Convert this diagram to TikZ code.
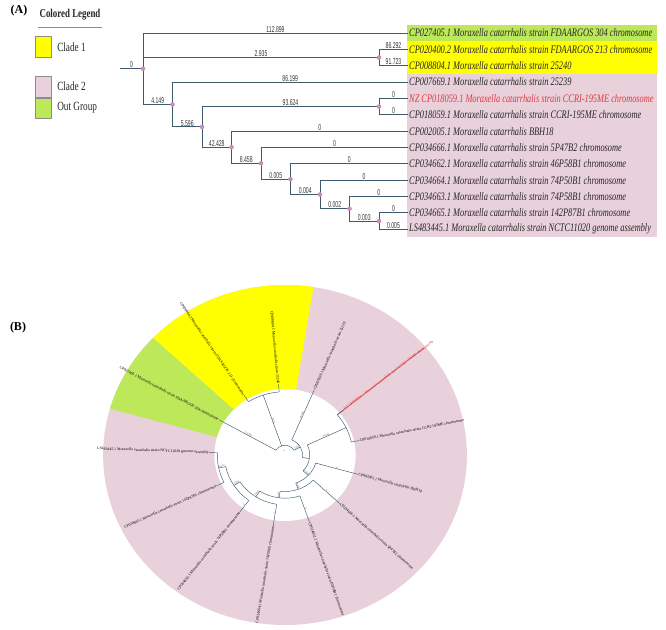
\documentclass[tikz,border=0pt]{standalone}
\usepackage{fontspec}
\usepackage{graphicx}
\setmainfont{Liberation Serif}
\newfontfamily\legfont[FakeStretch=0.74]{Liberation Serif}
\newfontfamily\numfont[FakeStretch=0.6]{Liberation Sans}
\definecolor{cladeY}{HTML}{FFFF00}
\definecolor{cladeP}{HTML}{E8D1DB}
\definecolor{cladeG}{HTML}{BDE85A}
\definecolor{branchc}{HTML}{3E5B6E}
\definecolor{dotc}{HTML}{C98FB5}
\definecolor{redlab}{HTML}{E0393E}
\newsavebox\measbox
\newdimen\measw
\AtBeginDocument{%
  \sbox\measbox{\fontsize{11.5}{12}\selectfont\itshape CP027405.1 Moraxella catarrhalis strain FDAARGOS 304 chromosome}%
  \measw=\wd\measbox
  \pgfmathparse{243/\measw}\xdef\labsx{\pgfmathresult}}
\newcommand{\lab}[1]{\scalebox{\labsx}[1]{#1}}
\tikzset{
  branch/.style={draw=branchc, line width=0.8pt},
  ndot/.style={circle, fill=dotc, inner sep=0pt, minimum size=4.6pt},
  blen/.style={font=\numfont\fontsize{8.5}{9}\selectfont, inner sep=0.6pt, anchor=south, text=black!80},
  leaf/.style={font=\fontsize{11.5}{12}\selectfont\itshape, anchor=west, inner sep=1pt, text=black!85},
  legtxt/.style={font=\legfont\fontsize{12.5}{13}\selectfont, anchor=west, inner sep=0pt, text=black!85},
  swatch/.style={draw=black!45, line width=0.5pt},
  panel/.style={font=\bfseries\fontsize{12}{13}\selectfont, inner sep=0pt},
  cbranch/.style={draw=branchc, line width=0.45pt},
  cleaf/.style={font=\fontsize{3.85}{4}\selectfont, inner sep=0.3pt, text=black},
  clen/.style={font=\fontsize{2.4}{3}\selectfont, inner sep=0.2pt, anchor=south, text=black!70}
}
\newcommand{\cblab}[4]{% angle, radius, text, flip
  \pgfmathsetmacro\crot{atan2(sin(#1),1.07*cos(#1))+#4}
  \node[clen, rotate=\crot] at (#1:#2) {#3};}
\begin{document}
\begin{tikzpicture}[x=1pt,y=-1pt]
\useasboundingbox (0,0) rectangle (666,629);
\fill[white] (0,0) rectangle (666,629);

% ---------------- Panel A ----------------
\node[panel] (pA) at (19,11) {(A)};

% legend
\node[font=\legfont\bfseries\fontsize{12}{13}\selectfont, inner sep=0pt, text=black!85] (legh) at (70,15) {Colored Legend};
\draw[black!45, line width=0.5pt] (38,27.5) -- (102,27.5);
\draw[swatch, fill=cladeY] (35,36) rectangle (51.5,57) node[legtxt] (lg1) at (57,47) {Clade 1};
\draw[swatch, fill=cladeP] (35,76) rectangle (51.5,97) node[legtxt] (lg2) at (57,86) {Clade 2};
\draw[swatch, fill=cladeG] (35,98) rectangle (51.5,118) node[legtxt] (lg3) at (57,108) {Out Group};

% label backgrounds
\fill[cladeG] (407,24.8) rectangle (657,41.2);
\fill[cladeY] (407,41.2) rectangle (657,73.9);
\fill[cladeP] (407,73.9) rectangle (657,237.4);

% leaves
\node[leaf] (L0) at (408,33) {\lab{CP027405.1 Moraxella catarrhalis strain FDAARGOS 304 chromosome}};
\node[leaf] (L1) at (408,49.35) {\lab{CP020400.2 Moraxella catarrhalis strain FDAARGOS 213 chromosome}};
\node[leaf] (L2) at (408,65.7) {\lab{CP008804.1 Moraxella catarrhalis strain 25240}};
\node[leaf] (L3) at (408,82.05) {\lab{CP007669.1 Moraxella catarrhalis strain 25239}};
\node[leaf, text=redlab] (L4) at (408,98.4) {\lab{NZ CP018059.1 Moraxella catarrhalis strain CCRI-195ME chromosome}};
\node[leaf] (L5) at (408,114.75) {\lab{CP018059.1 Moraxella catarrhalis strain CCRI-195ME chromosome}};
\node[leaf] (L6) at (408,131.1) {\lab{CP002005.1 Moraxella catarrhalis BBH18}};
\node[leaf] (L7) at (408,147.45) {\lab{CP034666.1 Moraxella catarrhalis strain 5P47B2 chromosome}};
\node[leaf] (L8) at (408,163.8) {\lab{CP034662.1 Moraxella catarrhalis strain 46P58B1 chromosome}};
\node[leaf] (L9) at (408,180.15) {\lab{CP034664.1 Moraxella catarrhalis strain 74P50B1 chromosome}};
\node[leaf] (L10) at (408,196.5) {\lab{CP034663.1 Moraxella catarrhalis strain 74P58B1 chromosome}};
\node[leaf] (L11) at (408,212.85) {\lab{CP034665.1 Moraxella catarrhalis strain 142P87B1 chromosome}};
\node[leaf] (L12) at (408,229.2) {\lab{LS483445.1 Moraxella catarrhalis strain NCTC11020 genome assembly}};

% internal nodes
\coordinate (stub) at (120,68.74);
\coordinate (root) at (143,68.74);
\coordinate (NY) at (379,57.53);
\coordinate (N41) at (172.5,104.47);
\coordinate (N55) at (202,126.89);
\coordinate (NR) at (379,106.58);
\coordinate (N42) at (231.5,147.2);
\coordinate (N8) at (261,163.29);
\coordinate (N5) at (290.5,179.13);
\coordinate (N4) at (320,194.46);
\coordinate (N2) at (349.5,208.76);
\coordinate (N3) at (379,221.03);

% edges with branch-length labels
\draw[branch] (stub) -- node[blen]{0} (root);
\foreach \p/\c/\v in {root/L0.west/112.899, root/NY/2.935, root/N41/4.149,
  NY/L1.west/86.292, NY/L2.west/91.723, N41/L3.west/86.199, N41/N55/5.596,
  N55/NR/93.624, N55/N42/42.428, NR/L4.west/0, NR/L5.west/0,
  N42/L6.west/0, N42/N8/8.458, N8/L7.west/0, N8/N5/0.005,
  N5/L8.west/0, N5/N4/0.004, N4/L9.west/0, N4/N2/0.002,
  N2/L10.west/0, N2/N3/0.003, N3/L11.west/0, N3/L12.west/0.005}{
  \draw[branch] (\p) |- (\c);
  \path (\p |- \c) -- node[blen]{\v} (\c);
}
\foreach \n in {root,NY,N41,N55,NR,N42,N8,N5,N4,N2,N3}{
  \node[ndot] at (\n) {};
}

% ---------------- Panel B ----------------
\node[panel] (pB) at (18,328) {(B)};

\begin{scope}[shift={(285,455)}, xscale=1.07, yscale=-1]
  \fill[cladeP] (0,0) circle[radius=170];
  \fill[cladeY] (0,0) -- (81:170) arc[start angle=81,end angle=136.5,radius=170] -- cycle;
  \fill[cladeG] (0,0) -- (136.5:170) arc[start angle=136.5,end angle=164.2,radius=170] -- cycle;
  \fill[white] (0,0) circle[radius=66];

  % arcs of internal nodes
  \foreach \r/\aa/\ab in {9.7/29.25/150.3, 63.3/94.9/122.6, 16.4/-8.7/67.2,
     23.1/-43.15/25.65, 63.3/11.8/39.5, 29.8/-70.3/-15.8, 36.5/-97.2/-43.5,
     43.2/-123.1/-71.2, 49.9/-147.4/-98.9, 56.6/-168.15/-126.6, 63.3/-182/-154.3}{
    \draw[cbranch] (\aa:\r) arc[start angle=\aa, end angle=\ab, radius=\r];
  }
  % internal radial branches
  \foreach \a/\ra/\rb in {108.8/9.7/63.3, 29.25/9.7/16.4, -8.7/16.4/23.1,
     25.65/23.1/63.3, -43.15/23.1/29.8, -70.3/29.8/36.5, -97.2/36.5/43.2,
     -123.1/43.2/49.9, -147.4/49.9/56.6, -168.15/56.6/63.3}{
    \draw[cbranch] (\a:\ra) -- (\a:\rb);
  }
  % red highlighted leaf line
  \draw[redlab, line width=0.6pt] (39.5:63.3) -- (39.5:168);

  % leaves
  \foreach \nm/\a/\pr/\anc/\off/\col/\txt in {
    cl0/-182/63.3/east/180/black/{LS483445.1 Moraxella catarrhalis strain NCTC11020 genome assembly},
    cl1/150.3/9.7/east/180/black/{CP027405.1 Moraxella catarrhalis strain FDAARGOS 304 chromosome},
    cl2/122.6/63.3/east/180/black/{CP020400.2 Moraxella catarrhalis strain FDAARGOS 213 chromosome},
    cl3/94.9/63.3/east/180/black/{CP008804.1 Moraxella catarrhalis strain 25240},
    cl4/67.2/16.4/west/0/black/{CP007669.1 Moraxella catarrhalis strain 25239},
    cl5/39.5/63.3/west/0/redlab/{NZ CP018059.1 Moraxella catarrhalis strain CCRI-195ME chromosome},
    cl6/11.8/63.3/west/0/black/{CP018059.1 Moraxella catarrhalis strain CCRI-195ME chromosome},
    cl7/-15.8/29.8/west/0/black/{CP002005.1 Moraxella catarrhalis BBH18},
    cl8/-43.5/36.5/west/0/black/{CP034666.1 Moraxella catarrhalis strain 5P47B2 chromosome},
    cl9/-71.2/43.2/west/0/black/{CP034662.1 Moraxella catarrhalis strain 46P58B1 chromosome},
    cl10/-98.9/49.9/east/180/black/{CP034664.1 Moraxella catarrhalis strain 74P50B1 chromosome},
    cl11/-126.6/56.6/east/180/black/{CP034663.1 Moraxella catarrhalis strain 74P58B1 chromosome},
    cl12/-154.3/63.3/east/180/black/{CP034665.1 Moraxella catarrhalis strain 142P87B1 chromosome}}{
    \pgfmathsetmacro\crot{atan2(sin(\a),1.07*cos(\a))+\off}
    \node[cleaf, anchor=\anc, rotate=\crot, text=\col] (\nm) at (\a:71) {\txt};
    \draw[cbranch] (\a:\pr) -- (\nm.\anc);
  }
  % branch length labels
  \cblab{150.3}{40}{112.899}{180}
  \cblab{108.8}{36}{2.935}{180}
  \cblab{29.25}{13}{4.149}{0}
  \cblab{67.2}{43}{86.199}{0}
  \cblab{25.65}{43}{93.624}{0}
  \cblab{-15.8}{50}{0}{0}
  \cblab{-43.5}{53}{0}{0}
  \cblab{-71.2}{57}{0}{0}
  \cblab{-98.9}{60}{0}{180}
  \cblab{-126.6}{63}{0}{180}
  \cblab{-43.15}{26.5}{42.428}{0}
  \cblab{-70.3}{33}{8.458}{0}
  \cblab{-97.2}{40}{0.005}{180}
  \cblab{-123.1}{46.5}{0.004}{180}
  \cblab{-147.4}{53}{0.002}{180}
  \cblab{-168.15}{60}{0.003}{180}
  \cblab{89.8}{4}{0}{0}
\end{scope}
\end{tikzpicture}
\end{document}
